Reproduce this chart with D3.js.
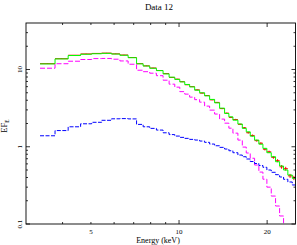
<!DOCTYPE html>
<html>
<head>
<meta charset="utf-8">
<script src="https://cdn.jsdelivr.net/npm/d3@7"></script>
<style>
  body { margin: 0; background: #fff; }
  text { font-family: "Liberation Serif", "DejaVu Serif", serif; fill: #000; }
</style>
</head>
<body>
<div id="chart"></div>
<script>
// Energy bin edges (keV)
const binEdges = [3.35, 3.77, 4.18, 4.61, 5.03, 5.44, 5.88, 6.28, 6.70, 7.16, 7.54, 7.94, 8.37, 8.82,
    9.25, 9.67, 10.06, 10.46, 10.87, 11.31, 11.76, 12.23, 12.72, 13.23, 13.76, 14.31, 14.80, 15.28,
    15.89, 16.45, 16.97, 17.51, 18.12, 18.74, 19.35, 19.96, 20.66, 21.37, 22.06, 22.76, 23.54, 24.37, 25.0];

// Data points (red) and their errors
const dataFlux = [11.9, 13.8, 15.3, 15.9, 16.15, 16.3, 15.95, 15.4, 14.3, 11.9, 11.15, 10.45, 9.70,
    8.85, 7.90, 7.50, 6.95, 6.35, 6.00, 5.45, 4.95, 4.60, 4.05, 3.75, 3.12, 2.72, 2.40, 2.25, 1.95, 1.76,
    1.52, 1.40, 1.20, 1.11, 0.93, 0.86, 0.73, 0.66, 0.55, 0.52, 0.42, 0.395];
const dataErr = [0.08, 0.09, 0.1, 0.1, 0.1, 0.1, 0.1, 0.1, 0.1, 0.09, 0.08, 0.08, 0.08, 0.08, 0.07, 0.07,
    0.07, 0.06, 0.06, 0.06, 0.06, 0.05, 0.05, 0.05, 0.05, 0.045, 0.045, 0.045, 0.04, 0.04, 0.04, 0.04,
    0.035, 0.035, 0.035, 0.03, 0.03, 0.03, 0.03, 0.03, 0.025, 0.025];

// Total model (green)
const modelTotal = [11.81, 13.71, 15.17, 15.76, 16.0, 16.2, 15.86, 15.30, 14.21, 11.85, 11.10, 10.39, 9.68,
    8.77, 7.95, 7.45, 6.92, 6.40, 5.96, 5.40, 4.99, 4.56, 4.10, 3.70, 3.16, 2.70, 2.44, 2.21, 1.97, 1.73,
    1.56, 1.37, 1.22, 1.08, 0.953, 0.837, 0.743, 0.640, 0.563, 0.500, 0.431, 0.391];

// Model components (magenta, blue)
const compMagenta = [10.39, 11.88, 12.80, 13.47, 13.85, 13.90, 13.59, 12.91, 11.70, 9.79, 9.37, 8.96, 8.32,
    7.27, 6.46, 5.91, 5.17, 4.80, 4.39, 4.07, 3.78, 3.36, 2.98, 2.65, 2.28, 2.02, 1.74, 1.50, 1.22, 0.99,
    0.83, 0.71, 0.58, 0.47, 0.38, 0.30, 0.23, 0.171, 0.127, 0.0945, 0.066, 0.046];
const compBlue = [1.387, 1.620, 1.813, 1.983, 2.073, 2.200, 2.300, 2.314, 2.294, 1.947, 1.813, 1.729, 1.644,
    1.516, 1.437, 1.375, 1.323, 1.284, 1.246, 1.221, 1.185, 1.140, 1.084, 1.030, 0.982, 0.934, 0.888,
    0.837, 0.781, 0.743, 0.694, 0.644, 0.607, 0.572, 0.542, 0.500, 0.467, 0.435, 0.406, 0.379, 0.350, 0.320];

// Ticks
const xLabelTicks = [5, 10, 20];
const xMajorTicks = [10, 20];
const xMinorTicks = [4, 5, 6, 7, 8, 9];
const yLabelTicks = [0.1, 1, 10];
const yMinorTicks = [0.2, 0.3, 0.4, 0.5, 0.6, 0.7, 0.8, 0.9, 2, 3, 4, 5, 6, 7, 8, 9, 20, 30];

const w = 297, h = 245;
const padL = 26, padR = 295.5, padT = 23, padB = 224;

const x = d3.scaleLog().domain([3, 25]).range([padL, padR]);
const y = d3.scaleLog().domain([0.1, 40]).range([padB, padT]);

const svg = d3.select("#chart").append("svg")
    .attr("width", w).attr("height", h);

svg.append("defs").append("clipPath").attr("id", "plotclip")
    .append("rect").attr("x", padL).attr("y", padT)
    .attr("width", padR - padL).attr("height", padB - padT);

const plot = svg.append("g").attr("clip-path", "url(#plotclip)");

// step line helper
function stepPoints(vals) {
    return binEdges.map((e, i) => [e, vals[Math.min(i, vals.length - 1)]]);
}
const stepLine = d3.line()
    .x(d => x(d[0]))
    .y(d => y(Math.max(d[1], 0.01)))
    .curve(d3.curveStepAfter);

// data with error bars
const dataG = plot.append("g").attr("stroke", "#ff0000").attr("stroke-width", 1);
dataFlux.forEach((v, i) => {
    const x0 = binEdges[i], x1 = binEdges[i + 1];
    const xc = Math.sqrt(x0 * x1);
    dataG.append("line")
        .attr("x1", x(x0)).attr("x2", x(x1))
        .attr("y1", y(v)).attr("y2", y(v));
    dataG.append("line")
        .attr("x1", x(xc)).attr("x2", x(xc))
        .attr("y1", y(v - dataErr[i])).attr("y2", y(v + dataErr[i]));
});

// total model
plot.append("path")
    .attr("d", stepLine(stepPoints(modelTotal)))
    .attr("fill", "none").attr("stroke", "#00ff00").attr("stroke-width", 1);

// components
plot.append("path")
    .attr("d", stepLine(stepPoints(compMagenta)))
    .attr("fill", "none").attr("stroke", "#ff00ff").attr("stroke-width", 1)
    .attr("stroke-dasharray", "5,2");

plot.append("path")
    .attr("d", stepLine(stepPoints(compBlue)))
    .attr("fill", "none").attr("stroke", "#0000ff").attr("stroke-width", 1)
    .attr("stroke-dasharray", "4,1.5");

// ticks (inward on all four sides)
const tickG = svg.append("g").attr("stroke", "#000").attr("stroke-width", 0.8);
function xTicks(vals, len) {
    vals.forEach(v => {
        tickG.append("line").attr("x1", x(v)).attr("x2", x(v)).attr("y1", padB).attr("y2", padB - len);
        tickG.append("line").attr("x1", x(v)).attr("x2", x(v)).attr("y1", padT).attr("y2", padT + len);
    });
}
function yTicks(vals, len) {
    vals.forEach(v => {
        tickG.append("line").attr("x1", padL).attr("x2", padL + len).attr("y1", y(v)).attr("y2", y(v));
        tickG.append("line").attr("x1", padR).attr("x2", padR - len).attr("y1", y(v)).attr("y2", y(v));
    });
}
xTicks(xMajorTicks, 4);
xTicks(xMinorTicks, 2);
yTicks(yLabelTicks, 4);
yTicks(yMinorTicks, 2);

// frame
svg.append("rect")
    .attr("x", padL).attr("y", padT)
    .attr("width", padR - padL).attr("height", padB - padT)
    .attr("fill", "none").attr("stroke", "#000").attr("stroke-width", 0.9);

// tick labels
svg.selectAll("text.xlab").data(xLabelTicks).enter().append("text")
    .attr("class", "xlab")
    .attr("x", d => x(d)).attr("y", 233.5)
    .attr("text-anchor", "middle").attr("font-size", "7px")
    .text(d => d);

svg.selectAll("text.ylab").data(yLabelTicks).enter().append("text")
    .attr("class", "ylab")
    .attr("transform", d => `translate(22,${y(d)}) rotate(-90)`)
    .attr("text-anchor", "middle").attr("font-size", "7px")
    .text(d => d);

// titles
svg.append("text")
    .attr("x", 159).attr("y", 10)
    .attr("text-anchor", "middle").attr("font-size", "9px")
    .text("Data 12");

svg.append("text")
    .attr("x", 158).attr("y", 242.5)
    .attr("text-anchor", "middle").attr("font-size", "8px")
    .text("Energy (keV)");

const yTitle = svg.append("text")
    .attr("transform", `translate(7,126) rotate(-90)`)
    .attr("text-anchor", "middle").attr("font-size", "8.5px");
yTitle.append("tspan").text("EF");
yTitle.append("tspan").attr("font-size", "5.5px").attr("dy", "2").text("E");
</script>
</body>
</html>
